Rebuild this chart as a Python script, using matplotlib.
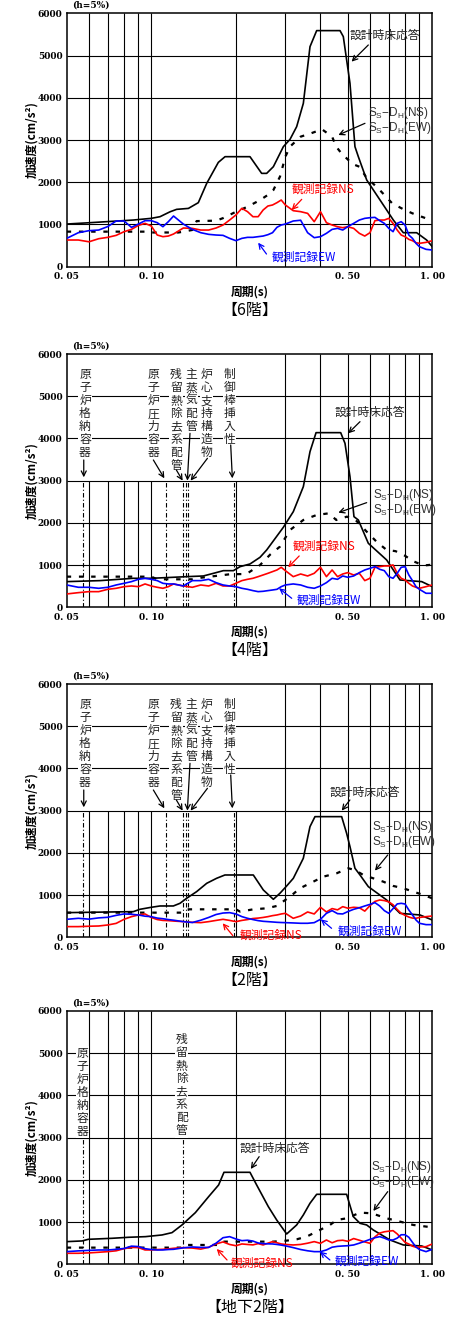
import matplotlib
matplotlib.use("Agg")
import matplotlib.pyplot as plt
from matplotlib.ticker import FixedLocator, FixedFormatter, NullLocator

CJK = ['Noto Sans CJK JP', 'DejaVu Sans']
SERIF = 'DejaVu Serif'

# ---------------- data ----------------
floor_titles = ['【6階】', '【4階】', '【2階】', '【地下2階】']
x_ticks = [0.05, 0.10, 0.50, 1.00]
x_tick_labels = ['0. 05', '0. 10', '0. 50', '1. 00']
y_ticks = [0, 1000, 2000, 3000, 4000, 5000, 6000]
grid_periods = [0.06, 0.07, 0.08, 0.09, 0.1, 0.2, 0.3, 0.4, 0.5, 0.6, 0.7, 0.8, 0.9]

# common period grid for the observed spectra (s)
obs_T = [0.05, 0.055, 0.06, 0.065, 0.07, 0.075, 0.08, 0.085, 0.09, 0.095,
         0.10, 0.105, 0.11, 0.115, 0.12, 0.13, 0.14, 0.15, 0.16, 0.17, 0.18, 0.19,
         0.20, 0.21, 0.22, 0.23, 0.24, 0.25, 0.26, 0.27, 0.28, 0.29, 0.30,
         0.32, 0.34, 0.36, 0.38, 0.40, 0.42, 0.44, 0.46, 0.48, 0.50,
         0.525, 0.55, 0.575, 0.60, 0.625, 0.65, 0.675, 0.70, 0.725, 0.75,
         0.775, 0.80, 0.825, 0.85, 0.875, 0.90, 0.95, 1.00]

# ---- 6F ----
f6_design_T = [0.05, 0.0605, 0.0863, 0.10, 0.1074, 0.1166, 0.1231, 0.1355, 0.147, 0.1575,
               0.1732, 0.183, 0.2245, 0.247, 0.2574, 0.2719, 0.2951, 0.3117, 0.3291, 0.3476,
               0.3671, 0.3877, 0.4694, 0.4823, 0.5094, 0.5306, 0.5455, 0.5842, 0.6516, 0.7266,
               0.7886, 0.8795, 0.9545, 1.0]
f6_design = [1010, 1042, 1105, 1145, 1184, 1300, 1358, 1380, 1516, 1974,
             2470, 2605, 2605, 2210, 2210, 2368, 2842, 3016, 3316, 3868,
             5210, 5590, 5590, 5448, 4342, 2842, 2605, 2053, 1579, 1105,
             805, 805, 632, 474]
f6_ss_T = [0.05, 0.095, 0.10, 0.125, 0.14, 0.145, 0.17, 0.18, 0.20, 0.22, 0.244, 0.26, 0.272,
           0.287, 0.30, 0.3115, 0.34, 0.37, 0.405, 0.44, 0.455, 0.475, 0.52, 0.55, 0.58,
           0.65, 0.72, 0.79, 0.85, 0.95, 1.00]
f6_ss = [830, 830, 810, 810, 870, 1080, 1090, 1150, 1300, 1420, 1579, 1700, 1816,
         2132, 2605, 2842, 3079, 3158, 3253, 3079, 2842, 2684, 2432, 2368, 2132,
         1816, 1500, 1358, 1263, 1145, 1121]
f6_ns = [632, 632, 590, 663, 695, 742, 829, 884, 979, 1026,
         963, 750, 711, 726, 774, 916, 908, 868, 868, 916, 987, 1105,
         1224, 1382, 1303, 1184, 1184, 1342, 1437, 1461, 1516, 1579, 1461,
         1326, 1303, 1263, 1066, 1303, 1042, 987, 947, 924, 947,
         908, 790, 726, 805, 1090, 1105, 1105, 1145, 1026, 868,
         750, 711, 647, 616, 568, 553, 576, 616]
f6_ew = [671, 805, 853, 868, 950, 1082, 1082, 932, 1010, 1090,
         1090, 1042, 947, 1066, 1200, 1010, 884, 805, 766, 750, 742, 671,
         616, 671, 695, 695, 711, 726, 758, 805, 932, 987, 1010,
         1082, 1100, 805, 687, 711, 790, 884, 908, 868, 947,
         1026, 1105, 1145, 1160, 1168, 1090, 1026, 908, 829, 1026,
         1066, 987, 750, 671, 553, 474, 411, 395]

# ---- 4F ----
f4_design_T = [0.05, 0.0657, 0.0863, 0.10, 0.1198, 0.1336, 0.1532, 0.1665, 0.1805, 0.1959,
               0.207, 0.2245, 0.2437, 0.2574, 0.2951, 0.3202, 0.3476, 0.3671, 0.3858, 0.472,
               0.489, 0.5094, 0.5263, 0.5455, 0.592, 0.688, 0.7674, 0.917, 1.0]
f4_design = [608, 632, 687, 687, 711, 726, 742, 805, 868, 868,
             963, 1026, 1184, 1358, 1895, 2266, 2858, 3687, 4137, 4137,
             3884, 3095, 2147, 2068, 1516, 1121, 647, 608, 489]
f4_ss_T = [0.05, 0.10, 0.105, 0.14, 0.15, 0.19, 0.218, 0.2437, 0.265, 0.287, 0.3117, 0.3476,
           0.3877, 0.428, 0.4554, 0.4965, 0.5306, 0.584, 0.633, 0.688, 0.74, 0.80, 0.85,
           0.93, 1.0]
f4_ss = [726, 726, 663, 663, 700, 782, 789, 1000, 1250, 1437, 1832, 2068,
         2187, 2226, 2068, 2147, 2084, 1792, 1555, 1358, 1330, 1220, 1100,
         990, 1010]
f4_ns = [316, 347, 371, 371, 426, 450, 489, 505, 489, 553,
         505, 474, 450, 489, 553, 505, 474, 529, 505, 568, 505, 505,
         568, 632, 663, 687, 726, 766, 805, 845, 884, 947, 868,
         726, 789, 742, 805, 947, 726, 884, 726, 789, 821,
         766, 805, 632, 687, 947, 963, 979, 979, 1003, 805,
         687, 647, 568, 505, 474, 450, 489, 529]
f4_ew = [529, 474, 474, 450, 474, 529, 568, 608, 663, 687,
         663, 632, 568, 553, 553, 505, 632, 632, 663, 584, 529, 505,
         489, 450, 426, 395, 371, 379, 395, 410, 426, 489, 529,
         553, 529, 474, 450, 505, 584, 687, 663, 742, 711,
         742, 821, 884, 924, 963, 900, 868, 726, 687, 805,
         947, 963, 766, 632, 489, 426, 332, 332]

# ---- 2F ----
f2_design_T = [0.05, 0.0863, 0.0911, 0.10, 0.1074, 0.1198, 0.1265, 0.1336, 0.145, 0.1575,
               0.1707, 0.1828, 0.2307, 0.2504, 0.2719, 0.2869, 0.3032, 0.3202, 0.3475, 0.367,
               0.3824, 0.4758, 0.4956, 0.5094, 0.5306, 0.553, 0.592, 0.688, 0.7674, 0.904, 1.0]
f2_design = [584, 608, 663, 711, 742, 742, 805, 924, 1082, 1279,
             1397, 1476, 1476, 1121, 900, 1042, 1216, 1397, 1871, 2621,
             2858, 2858, 2463, 2147, 1634, 1476, 1200, 884, 568, 529, 410]
f2_ss_T = [0.05, 0.128, 0.132, 0.20, 0.207, 0.2307, 0.2574, 0.2794, 0.3116, 0.3381, 0.3772,
           0.4095, 0.4566, 0.5024, 0.5306, 0.5682, 0.6166, 0.6692, 0.7266, 0.7886, 0.8558,
           0.9289, 1.0]
f2_ss = [584, 584, 663, 663, 608, 663, 687, 742, 963, 1161, 1318,
         1437, 1516, 1634, 1595, 1476, 1397, 1318, 1216, 1161, 1082,
         1003, 924]
f2_ns = [253, 253, 262, 268, 292, 330, 426, 489, 529, 553,
         470, 420, 400, 395, 385, 371, 355, 347, 371, 400, 426, 400,
         371, 400, 420, 445, 455, 470, 489, 513, 529, 553, 568,
         450, 505, 600, 553, 711, 600, 680, 650, 726, 690,
         711, 700, 620, 750, 850, 884, 870, 840, 770, 660,
         568, 520, 480, 455, 450, 470, 489, 505]
f2_ew = [426, 450, 430, 460, 474, 520, 553, 545, 529, 500,
         489, 455, 440, 420, 405, 371, 350, 405, 470, 540, 575, 584,
         553, 490, 450, 420, 395, 379, 371, 363, 355, 350, 347,
         340, 332, 332, 347, 426, 568, 632, 560, 553, 608,
         663, 700, 742, 780, 821, 742, 632, 568, 680, 790,
         805, 789, 647, 529, 410, 332, 300, 300]

# ---- B2F ----
b2_design_T = [0.05, 0.0567, 0.0597, 0.0725, 0.0831, 0.0953, 0.1092, 0.1185, 0.1286, 0.1435,
               0.16, 0.1736, 0.1814, 0.2245, 0.2371, 0.2609, 0.2794, 0.3032, 0.3291, 0.3475,
               0.367, 0.3877, 0.4956, 0.5235, 0.553, 0.584, 0.6166, 0.707, 0.7886, 0.917, 1.0]
b2_design = [537, 553, 592, 616, 640, 655, 695, 750, 932, 1224,
             1603, 1879, 2179, 2179, 1879, 1366, 1050, 718, 932, 1168,
             1445, 1658, 1658, 1129, 971, 932, 813, 576, 458, 434, 339]
b2_ss_T = [0.05, 0.128, 0.132, 0.173, 0.178, 0.272, 0.3032, 0.3291, 0.357, 0.398, 0.4323,
           0.4566, 0.4956, 0.553, 0.6085, 0.688, 0.7674, 0.8558, 0.9545, 1.0]
b2_ss = [395, 395, 458, 458, 537, 537, 561, 592, 655, 813, 932,
         1050, 1089, 1224, 1208, 1089, 1011, 932, 892, 876]
b2_ns = [261, 261, 270, 285, 300, 320, 370, 400, 395, 340,
         340, 350, 355, 365, 379, 395, 385, 360, 403, 482, 530, 470,
         440, 482, 470, 460, 490, 458, 500, 537, 510, 482, 470,
         458, 470, 500, 537, 497, 576, 510, 560, 570, 545,
         610, 570, 530, 497, 650, 740, 770, 785, 797, 720,
         620, 520, 480, 430, 403, 410, 418, 482]
b2_ew = [300, 318, 330, 339, 339, 355, 375, 430, 420, 370,
         350, 339, 340, 350, 355, 390, 410, 400, 400, 500, 630, 655,
         600, 560, 570, 550, 505, 490, 485, 482, 470, 455, 437,
         395, 350, 320, 300, 300, 340, 405, 425, 434, 440,
         458, 500, 545, 590, 630, 655, 620, 576, 576, 620,
         700, 700, 640, 520, 410, 350, 300, 355]

# equipment periods (dash-dot markers) and labels
equip_upper = ['原子炉格納容器', '原子炉圧力容器', '残留熱除去系配管', '主蒸気配管', '炉心支持構造物', '制御棒挿入性']
equip_upper_T = [0.0573, 0.1128, 0.130, 0.1329, 0.1355, 0.1965]
equip_b2 = ['原子炉格納容器', '残留熱除去系配管']
equip_b2_T = [0.0573, 0.130]

# ---------------- figure ----------------
W, H = 463, 1318
fig = plt.figure(figsize=(W / 100, H / 100), dpi=100)
fig.patch.set_facecolor('white')

tops = [13.3, 354.0, 684.0, 1011.0]
bots = [266.7, 607.3, 937.3, 1264.3]
L, R = 66.7, 432.3

panels = [
    dict(design=(f6_design_T, f6_design), ss=(f6_ss_T, f6_ss), ns=f6_ns, ew=f6_ew, title=floor_titles[0]),
    dict(design=(f4_design_T, f4_design), ss=(f4_ss_T, f4_ss), ns=f4_ns, ew=f4_ew, title=floor_titles[1]),
    dict(design=(f2_design_T, f2_design), ss=(f2_ss_T, f2_ss), ns=f2_ns, ew=f2_ew, title=floor_titles[2]),
    dict(design=(b2_design_T, b2_design), ss=(b2_ss_T, b2_ss), ns=b2_ns, ew=b2_ew, title=floor_titles[3]),
]

# annotation layout per panel: (text pos), (arrow tail, head)
ann = [
    dict(design_txt=(0.509, 5487), design_arr=((0.592, 5250), (0.516, 4855)),
         ss_txt=(0.592, 3632, 3276), ss_arr=((0.576, 3395), (0.463, 3118)),
         ns_txt=(0.316, 1832), ns_arr=((0.343, 1595), (0.316, 1342)),
         ew_txt=(0.268, 221), ew_arr=((0.257, 300), (0.240, 568))),
    dict(design_txt=(0.450, 4611), design_arr=((0.553, 4397), (0.502, 4121)),
         ss_txt=(0.613, 2661, 2305), ss_arr=((0.584, 2479), (0.463, 2242)),
         ns_txt=(0.318, 1437), ns_arr=((0.336, 1216), (0.307, 947)),
         ew_txt=(0.329, 158), ew_arr=((0.316, 213), (0.285, 450))),
    dict(design_txt=(0.432, 3426), design_arr=((0.509, 3253), (0.476, 3000)),
         ss_txt=(0.608, 2621, 2266), ss_arr=((0.694, 1950), (0.625, 1579)),
         ns_txt=(0.206, 40), ns_arr=((0.195, 40), (0.1795, 332)),
         ew_txt=(0.459, 134), ew_arr=((0.438, 213), (0.401, 426))),
    dict(design_txt=(0.206, 2747), design_arr=((0.242, 2550), (0.226, 2258)),
         ss_txt=(0.603, 2313, 1958), ss_arr=((0.694, 1721), (0.617, 1263)),
         ns_txt=(0.192, 30), ns_arr=((0.186, 103), (0.171, 363)),
         ew_txt=(0.450, 63), ew_arr=((0.432, 103), (0.398, 300))),
]

upper_txt = dict(T=[0.0581, 0.1017, 0.1224, 0.1392, 0.1575, 0.1895], top=5661,
                 arrows=[((0.0575, 3490), (0.0575, 3079)), ((0.1017, 3490), (0.1113, 3055)),
                         ((0.1228, 3253), (0.1293, 3000)), ((0.1373, 4121), (0.1344, 3000)),
                         ((0.1584, 3529), (0.138, 3000)), ((0.1917, 3845), (0.1943, 3055))])
b2_txt = dict(T=[0.057, 0.1283], top=[5155, 5471])


def arrow(ax, tail, head, color):
    ax.annotate('', xy=head, xytext=tail,
                arrowprops=dict(arrowstyle='->', color=color, lw=0.9,
                                shrinkA=0, shrinkB=0, mutation_scale=9), zorder=6)


def vtext(ax, T, top, s):
    ax.text(T, top, '\n'.join(s), ha='center', va='top', fontsize=8.5, family=CJK,
            linespacing=1.0, color='#222222', zorder=3,
            bbox=dict(fc='white', ec='none', pad=0.6))


for i, p in enumerate(panels):
    top, bot = tops[i], bots[i]
    ax = fig.add_axes([L / W, 1 - bot / H, (R - L) / W, (bot - top) / H])
    ax.set_xscale('log')
    ax.set_xlim(0.05, 1.0)
    ax.set_ylim(0, 6000)

    short = i in (1, 2)
    for T in grid_periods:
        if short and T <= 0.2:
            ax.vlines(T, 0, 3000, color='black', lw=0.8, zorder=1)
        else:
            ax.vlines(T, 0, 6000, color='black', lw=0.8, zorder=1)
    for yv in y_ticks[1:-1]:
        ax.hlines(yv, 0.05, 1.0, color='black', lw=0.8, zorder=1)

    ax.xaxis.set_major_locator(FixedLocator(x_ticks))
    ax.xaxis.set_major_formatter(FixedFormatter(x_tick_labels))
    ax.xaxis.set_minor_locator(NullLocator())
    ax.yaxis.set_major_locator(FixedLocator(y_ticks))
    ax.tick_params(axis='both', length=0, labelsize=6.5)
    ax.tick_params(axis='x', pad=4)
    ax.tick_params(axis='y', pad=3)
    for lab in ax.get_xticklabels() + ax.get_yticklabels():
        lab.set_fontfamily(SERIF)
        lab.set_fontweight('bold')
    for sp in ax.spines.values():
        sp.set_linewidth(1.1)
        sp.set_color('black')

    dT, dV = p['design']
    ax.plot(dT, dV, color='black', lw=1.2, zorder=4)
    sT, sV = p['ss']
    ax.plot(sT, sV, color='black', lw=1.6, linestyle=(0, (2, 3.5)), zorder=4)
    ax.plot(obs_T, p['ns'], color='#ff0000', lw=1.2, zorder=5)
    ax.plot(obs_T, p['ew'], color='#0000ff', lw=1.2, zorder=5)

    a = ann[i]
    ax.text(a['design_txt'][0], a['design_txt'][1], '設計時床応答', fontsize=8.5, family=CJK,
            color='#222222', ha='left', va='center', zorder=6)
    arrow(ax, *a['design_arr'], 'black')
    ax.text(a['ss_txt'][0], a['ss_txt'][1], r'S$_\mathregular{S}$−D$_\mathregular{H}$(NS)',
            fontsize=8.5, family='Liberation Sans', color='#333333', ha='left', va='center', zorder=6)
    ax.text(a['ss_txt'][0], a['ss_txt'][2], r'S$_\mathregular{S}$−D$_\mathregular{H}$(EW)',
            fontsize=8.5, family='Liberation Sans', color='#333333', ha='left', va='center', zorder=6)
    arrow(ax, *a['ss_arr'], 'black')
    ax.text(a['ns_txt'][0], a['ns_txt'][1], '観測記録NS', fontsize=8.5, family=CJK,
            color='#ff0000', ha='left', va='center', zorder=6)
    arrow(ax, *a['ns_arr'], '#ff0000')
    ax.text(a['ew_txt'][0], a['ew_txt'][1], '観測記録EW', fontsize=8.5, family=CJK,
            color='#0000ff', ha='left', va='center', zorder=6)
    arrow(ax, *a['ew_arr'], '#0000ff')

    if short:
        for T in equip_upper_T:
            ax.vlines(T, 0, 3000, color='black', lw=0.8, linestyles=(0, (4, 2, 1, 2)), zorder=2)
        for T, s in zip(upper_txt['T'], equip_upper):
            vtext(ax, T, upper_txt['top'], s)
        for tail, head in upper_txt['arrows']:
            arrow(ax, tail, head, 'black')
    if i == 3:
        for T in equip_b2_T:
            ax.vlines(T, 0, 3000, color='black', lw=0.8, linestyles=(0, (4, 2, 1, 2)), zorder=2)
        for T, t0, s in zip(b2_txt['T'], b2_txt['top'], equip_b2):
            vtext(ax, T, t0, s)

    ax.text(0.0145, 1.0 + 8 / (bot - top), '(h=5%)', transform=ax.transAxes, fontsize=6.5,
            family=SERIF, fontweight='bold', ha='left', va='center')

    cx = (L + R) / 2 / W
    fig.text(cx, 1 - (bot + 25) / H, '周期(s)', fontsize=8.5, family=CJK, fontweight='bold',
             ha='center', va='center')
    fig.text(cx, 1 - (bot + 43.5) / H, p['title'], fontsize=11.5, family=CJK,
             ha='center', va='center')
    fig.text(32 / W, 1 - (top + bot) / 2 / H, '加速度(cm/s²)', fontsize=8.5, family=CJK,
             fontweight='bold', rotation=90, ha='center', va='center')

fig.savefig('out.png', dpi=100, facecolor='white')
